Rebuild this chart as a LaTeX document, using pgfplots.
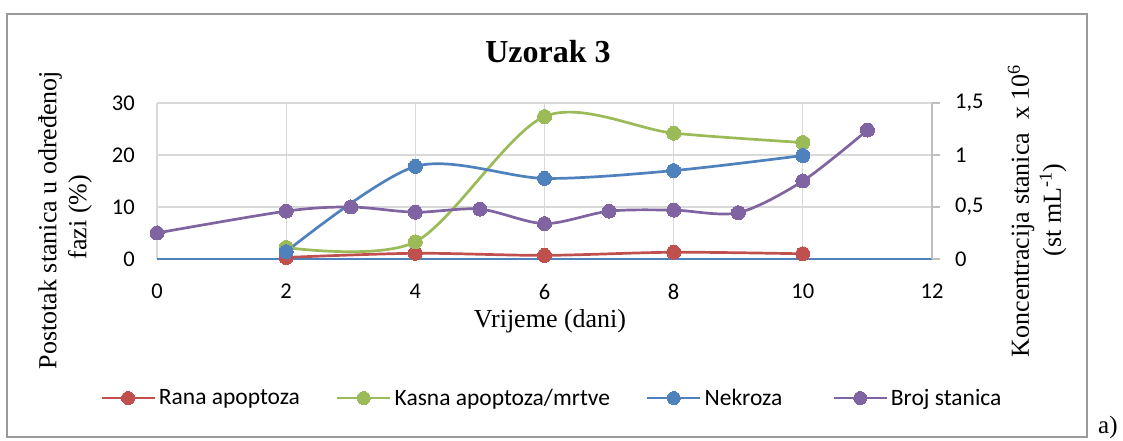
\documentclass[border=0pt]{standalone}
\usepackage{pgfplots}
\pgfplotsset{compat=1.18}
\usepackage{fontspec}
\setmainfont{Liberation Serif}
\newfontfamily\calibri{Carlito}
\definecolor{cred}{HTML}{C0504D}
\definecolor{cgreen}{HTML}{9BBB59}
\definecolor{cblue}{HTML}{4F81BD}
\definecolor{cpurple}{HTML}{8064A2}
\definecolor{cgrid}{HTML}{D9D9D9}
\definecolor{caxis}{HTML}{BFBFBF}
\definecolor{cframe}{HTML}{9A9A9A}
\begin{document}
\begin{tikzpicture}[x=1pt,y=1pt]
\useasboundingbox (0,0) rectangle (1123,441);
\draw[cframe, line width=1.3pt] (7,4) rectangle (1087,427);
\node[font=\bfseries\fontsize{32}{38}\selectfont, anchor=base] at (548,378.3) {Uzorak 3};
\node[font=\fontsize{26}{30}\selectfont, anchor=base] at (550,113) {Vrijeme (dani)};
\node[font=\fontsize{26}{30}\selectfont, rotate=90] at (50,221) {Postotak stanica u određenoj};
\node[font=\fontsize{26}{30}\selectfont, rotate=90] at (80,224) {fazi (\%)};
\node[font=\fontsize{26}{30}\selectfont, rotate=90] at (1021,230) {Koncentracija stanica\ \ x 10\textsuperscript{6}};
\node[font=\fontsize{26}{30}\selectfont, rotate=90] at (1053,231) {(st mL\textsuperscript{-1})};
\node[font=\fontsize{25}{30}\selectfont, anchor=base west, inner sep=0pt] at (1098,7) {a)};
\begin{axis}[
  at={(157pt,182pt)}, anchor=south west, scale only axis,
  width=775pt, height=156pt,
  xmin=0, xmax=12, ymin=0, ymax=30,
  xtick={0,2,...,12}, ytick={0,10,20,30},
  axis line style={draw=none}, major tick length=0pt,
  xmajorgrids, ymajorgrids, grid style={cgrid, line width=1.3pt},
  extra y ticks={0}, extra y tick labels={},
  extra y tick style={grid style={cblue, line width=1.3pt}},
  ticklabel style={font=\calibri\fontsize{22.5}{26}\selectfont, inner sep=0pt},
  /pgf/number format/assume math mode=true,
  yticklabel style={xshift=-22pt},
  xticklabel style={yshift=-25pt},
  clip=false,
  legend columns=4,
  legend style={at={(-0.0735,-0.891)}, anchor=west, draw=none, fill=none,
    inner sep=0pt, font=\calibri\fontsize{23.5}{28}\selectfont,
    nodes={inner sep=3pt},
    /tikz/every even column/.append style={column sep=33pt}},
  legend cell align=left,
  legend image code/.code={\draw[#1, mark size=6.5pt, mark repeat=2, mark phase=2] plot coordinates {(0pt,0pt) (26.5pt,0pt) (53pt,0pt)};},
  every axis plot/.append style={line width=2.7pt, smooth, tension=0.5, mark=*, mark size=7pt},
]
\addplot[cred, mark options={fill=cred, draw=cred, line width=0pt}] coordinates {(2,0.3) (4,1.1) (6,0.7) (8,1.3) (10,1.0)};
\addlegendentry{Rana apoptoza}
\addplot[cgreen, mark options={fill=cgreen, draw=cgreen, line width=0pt}] coordinates {(2,2.2) (4,3.3) (6,27.4) (8,24.2) (10,22.4)};
\addlegendentry{Kasna apoptoza/mrtve}
\addplot[cblue, mark options={fill=cblue, draw=cblue, line width=0pt}] coordinates {(2,1.4) (4,17.8) (6,15.5) (8,17.0) (10,19.9)};
\addlegendentry{Nekroza\hspace*{14pt}}
\addlegendimage{cpurple, line width=2.7pt, mark=*, mark options={fill=cpurple, draw=cpurple, line width=0pt}}
\addlegendentry{Broj stanica}
\end{axis}
\begin{axis}[
  at={(157pt,182pt)}, anchor=south west, scale only axis,
  width=775pt, height=156pt,
  xmin=0, xmax=12, ymin=0, ymax=1.5,
  axis x line=none, axis y line*=right,
  y axis line style={draw=caxis, line width=1.3pt, -},
  ytick={0,0.5,1,1.5}, tick align=outside, major tick length=8pt,
  tick style={caxis, line width=1.3pt},
  yticklabel style={font=\calibri\fontsize{22.5}{26}\selectfont, inner sep=0pt, xshift=15pt},
  /pgf/number format/.cd, use comma, assume math mode=true, /pgfplots/.cd,
  clip=false,
]
\addplot[cpurple, line width=2.7pt, smooth, tension=0.5, mark=*, mark size=7pt, mark options={fill=cpurple, draw=cpurple, line width=0pt}] coordinates {(0,0.25) (2,0.46) (3,0.50) (4,0.45) (5,0.48) (6,0.34) (7,0.46) (8,0.47) (9,0.445) (10,0.75) (11,1.24)};
\end{axis}
\end{tikzpicture}
\end{document}
